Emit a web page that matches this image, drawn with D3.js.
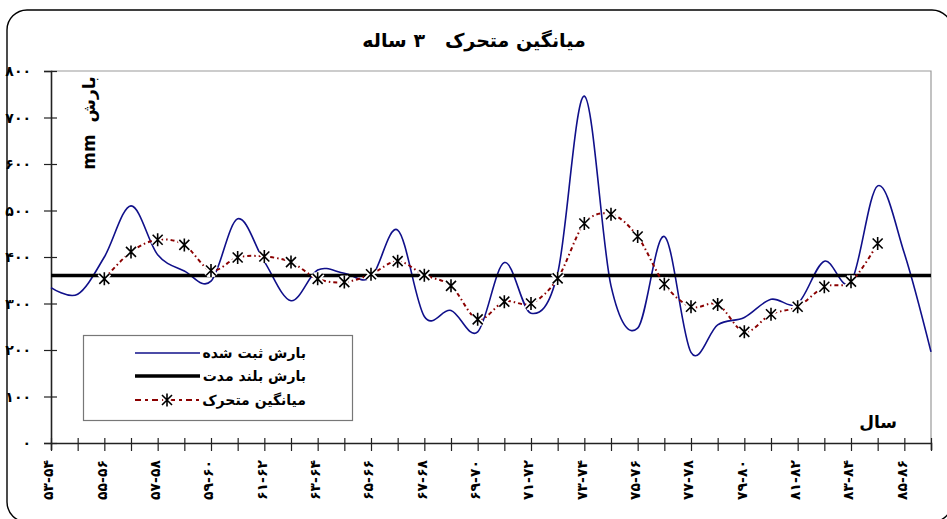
<!DOCTYPE html>
<html>
<head>
<meta charset="utf-8">
<script src="https://cdn.jsdelivr.net/npm/d3@7"></script>
<style>
  html, body { margin: 0; padding: 0; background: #fff; }
  svg { display: block; }
  .fa { font-family: "DejaVu Sans", "Noto Sans", sans-serif; font-weight: bold; }
</style>
</head>
<body>
<svg id="chart" width="947" height="519"></svg>
<script>
// ---------------- DATA ----------------
const categories = [
  "۵۳-۵۴","۵۴-۵۵","۵۵-۵۶","۵۶-۵۷","۵۷-۵۸","۵۸-۵۹","۵۹-۶۰","۶۰-۶۱","۶۱-۶۲","۶۲-۶۳",
  "۶۳-۶۴","۶۴-۶۵","۶۵-۶۶","۶۶-۶۷","۶۷-۶۸","۶۸-۶۹","۶۹-۷۰","۷۰-۷۱","۷۱-۷۲","۷۲-۷۳",
  "۷۳-۷۴","۷۴-۷۵","۷۵-۷۶","۷۶-۷۷","۷۷-۷۸","۷۸-۷۹","۷۹-۸۰","۸۰-۸۱","۸۱-۸۲","۸۲-۸۳",
  "۸۳-۸۴","۸۴-۸۵","۸۵-۸۶","۸۶-۸۷"
];
// observed precipitation (mm)
const observed = [
  334, 320, 400, 510, 405, 370, 348, 482, 390, 306,
  372, 365, 356, 458, 272, 285, 239, 388, 279, 365,
  746, 338, 247, 444, 195, 254, 270, 309, 300, 391,
  346, 553, 408, 196
];
// 3-year moving average (mm)
const movingAvg = [
  null, null, 353, 411, 437, 426, 371, 399, 401, 389,
  353, 346, 363, 391, 361, 338, 266, 304, 300, 354,
  472, 492, 444, 342, 293, 298, 239, 277, 293, 336,
  347, 429, null, null
];
// long-term mean precipitation (mm)
const longTermMean = 360;

const yTicks = [0, 100, 200, 300, 400, 500, 600, 700, 800];
const yTickLabels = ["۰", "۱۰۰", "۲۰۰", "۳۰۰", "۴۰۰", "۵۰۰", "۶۰۰", "۷۰۰", "۸۰۰"];

const titleText = "میانگین متحرک   ۳ ساله";
const yAxisTitle = "mm  بارش";
const xAxisTitle = "سال";
const legendLabels = ["بارش ثبت شده", "بارش بلند مدت", "میانگین متحرک"];

// ---------------- DRAW ----------------
const svg = d3.select("#chart");
const W = 947, H = 519;
const plot = { left: 51, right: 931, top: 71, bottom: 443 };

svg.append("rect").attr("width", W).attr("height", H).attr("fill", "#fff");

// outer rounded frame
svg.append("rect")
  .attr("x", 7).attr("y", 10).attr("width", 945).attr("height", 512)
  .attr("rx", 20).attr("ry", 20)
  .attr("fill", "none").attr("stroke", "#000").attr("stroke-width", 1.4);

const x = d3.scalePoint().domain(categories).range([plot.left, plot.right]).padding(0);
const y = d3.scaleLinear().domain([0, 800]).range([plot.bottom, plot.top]);

// plot area border (top/right gray)
svg.append("path")
  .attr("d", `M${plot.left},${plot.top}H${plot.right}V${plot.bottom}`)
  .attr("fill", "none").attr("stroke", "#9a9a9a").attr("stroke-width", 1.2);

// Y axis
const yAxis = svg.append("g")
  .attr("transform", `translate(${plot.left},0)`)
  .call(d3.axisLeft(y).tickValues(yTicks).tickSizeOuter(0).tickSize(7)
        .tickFormat((d, i) => yTickLabels[i]));
yAxis.select(".domain").attr("stroke", "#222").attr("stroke-width", 1.6);
yAxis.selectAll(".tick line").attr("x1", 6).attr("x2", -7).attr("stroke", "#222").attr("stroke-width", 1.2);
yAxis.selectAll(".tick text")
  .attr("class", "fa").attr("x", -20).attr("dy", "0.35em")
  .style("font-size", "14px").attr("fill", "#000").attr("text-anchor", "end");

// X axis
const xAxis = svg.append("g")
  .attr("transform", `translate(0,${plot.bottom})`)
  .call(d3.axisBottom(x).tickSizeOuter(0).tickSize(7)
        .tickFormat((d, i) => (i % 2 === 0 ? d : "")));
xAxis.select(".domain").attr("stroke", "#222").attr("stroke-width", 1.6);
xAxis.selectAll(".tick line").attr("y1", -5).attr("y2", 8).attr("stroke", "#222").attr("stroke-width", 1.2);
xAxis.selectAll(".tick text")
  .attr("class", "fa")
  .style("font-size", "14px")
  .style("unicode-bidi", "bidi-override").style("direction", "ltr")
  .attr("fill", "#000")
  .attr("text-anchor", "end")
  .attr("transform", "translate(-3,0) rotate(-90)")
  .attr("x", -17).attr("y", 0).attr("dy", "0.35em");

// lines
const curve = d3.curveCardinal.tension(0);
const lineObs = d3.line().x((d, i) => x(categories[i])).y(d => y(d)).curve(curve);
svg.append("path").datum(observed)
  .attr("d", lineObs)
  .attr("fill", "none").attr("stroke", "#10108a").attr("stroke-width", 1.6);

svg.append("line")
  .attr("x1", x(categories[0])).attr("x2", x(categories[categories.length - 1]))
  .attr("y1", y(longTermMean)).attr("y2", y(longTermMean))
  .attr("stroke", "#000").attr("stroke-width", 3.5);

const maPts = movingAvg.map((v, i) => ({ v, i })).filter(d => d.v != null);
const lineMA = d3.line().x(d => x(categories[d.i])).y(d => y(d.v)).curve(curve);
svg.append("path").datum(maPts)
  .attr("d", lineMA)
  .attr("fill", "none").attr("stroke", "#8b0000").attr("stroke-width", 2)
  .attr("stroke-dasharray", "4,3,1.5,3");

const starPath = "M-5,-5L5,5M-5,5L5,-5M0,-6.5L0,6.5";
function drawStar(g) {
  g.append("path").attr("d", starPath).attr("stroke", "#fff").attr("stroke-width", 5).attr("fill", "none");
  g.append("path").attr("d", starPath).attr("stroke", "#000").attr("stroke-width", 1.6).attr("fill", "none");
}
svg.append("g").selectAll("g").data(maPts).join("g")
  .attr("transform", d => `translate(${x(categories[d.i])},${y(d.v)})`)
  .each(function () { drawStar(d3.select(this)); });

// title
svg.append("text").attr("class", "fa")
  .attr("x", 474).attr("y", 47).attr("text-anchor", "middle")
  .style("white-space", "pre")
  .style("font-size", "19px").text(titleText);

// y axis title
svg.append("text").attr("class", "fa")
  .attr("transform", "translate(95,123) rotate(-90)")
  .attr("text-anchor", "middle")
  .style("white-space", "pre")
  .style("font-size", "17px").text(yAxisTitle);

// x axis title
svg.append("text").attr("class", "fa")
  .attr("x", 897).attr("y", 428).attr("text-anchor", "end")
  .style("font-size", "17px").text(xAxisTitle);

// legend
const lg = svg.append("g");
lg.append("rect").attr("x", 83.5).attr("y", 335.5).attr("width", 269).attr("height", 85)
  .attr("fill", "#fff").attr("stroke", "#777").attr("stroke-width", 1.2);
const rows = [353, 376, 400];
lg.append("line").attr("x1", 135).attr("x2", 200).attr("y1", rows[0]).attr("y2", rows[0])
  .attr("stroke", "#10108a").attr("stroke-width", 1.6);
lg.append("line").attr("x1", 135).attr("x2", 200).attr("y1", rows[1]).attr("y2", rows[1])
  .attr("stroke", "#000").attr("stroke-width", 3.5);
lg.append("line").attr("x1", 135).attr("x2", 200).attr("y1", rows[2]).attr("y2", rows[2])
  .attr("stroke", "#8b0000").attr("stroke-width", 2).attr("stroke-dasharray", "6,4,3,4");
drawStar(lg.append("g").attr("transform", `translate(167,${rows[2]})`));
legendLabels.forEach((t, i) => {
  lg.append("text").attr("class", "fa")
    .attr("x", 306).attr("y", rows[i]).attr("dy", "0.35em").attr("text-anchor", "end")
    .style("font-size", "14px").text(t);
});
</script>
</body>
</html>
